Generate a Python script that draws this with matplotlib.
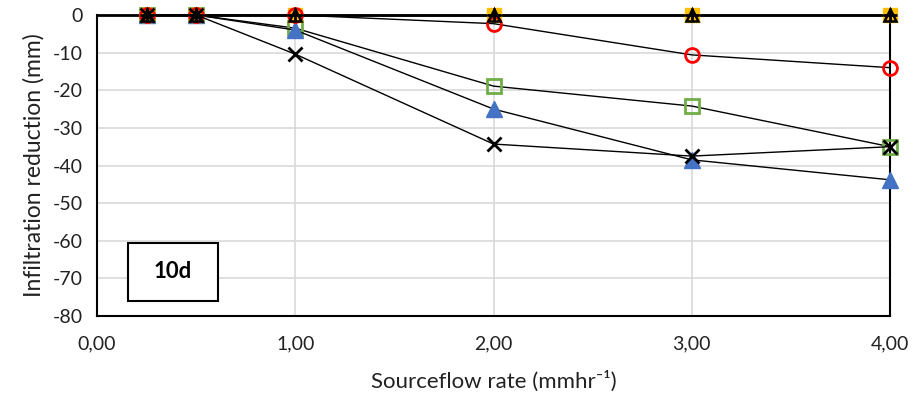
import matplotlib
matplotlib.use("Agg")
import matplotlib.pyplot as plt
from matplotlib.ticker import FuncFormatter
from matplotlib.patches import Rectangle

plt.rcParams['font.family'] = ['Lato', 'DejaVu Sans']

x = [0.25, 0.5, 1.0, 2.0, 3.0, 4.0]
s_green_sq = [0, 0, -3.5, -18.9, -24.2, -35.0]
s_blue_tri = [0, 0, -4.0, -25.0, -38.5, -43.8]
s_yellow_sq = [0, 0, 0, 0, 0, 0]
s_red_circ = [0, 0, 0, -2.3, -10.6, -14.0]
s_black_x = [0, 0, -10.4, -34.3, -37.5, -35.0]
s_black_plus = [0, 0, 0, 0, 0, 0]
s_black_tri = [0, 0, 0, 0, 0, 0]

xticks = [0, 1, 2, 3, 4]
yticks = list(range(-80, 1, 10))

fig = plt.figure(figsize=(9.17, 4.0), dpi=100)
ax = fig.add_axes([0.1058, 0.21, 0.8648, 0.7525])

lw = 1.0
kw = dict(color='black', lw=lw, clip_on=False)
ax.plot(x, s_green_sq, marker='s', ms=10, mfc='none', mec='#70AD47', mew=2, zorder=3, **kw)
ax.plot(x, s_blue_tri, marker='^', ms=11, mfc='#4472C4', mec='#4472C4', zorder=4, **kw)
ax.plot(x, s_yellow_sq, marker='s', ms=10, mfc='#FFC000', mec='#FFC000', zorder=5, **kw)
ax.plot(x, s_red_circ, marker='o', ms=10, mfc='none', mec='#FF0000', mew=2, zorder=6, **kw)
ax.plot(x, s_black_x, marker='x', ms=10, mec='black', mew=2, zorder=7, **kw)
ax.plot(x, s_black_plus, marker='+', ms=10, mec='black', mew=2, zorder=8, **kw)
ax.plot(x, s_black_tri, marker='^', ms=9, mfc='none', mec='black', mew=1.8, zorder=9, **kw)

ax.set_xlim(0, 4)
ax.set_ylim(-80, 0)
ax.set_xticks(xticks)
ax.set_yticks(yticks)
ax.xaxis.set_major_formatter(FuncFormatter(lambda v, p: f"{v:.2f}".replace('.', ',')))
ax.yaxis.set_major_formatter(FuncFormatter(lambda v, p: f"{int(v)}"))
ax.tick_params(axis='both', length=0, labelsize=14, colors='#222222')
ax.tick_params(axis='x', pad=14)
ax.tick_params(axis='y', pad=10)
ax.grid(True, color='#D9D9D9', lw=1.2)
ax.set_axisbelow(True)
for sp in ax.spines.values():
    sp.set_color('black')
    sp.set_linewidth(1.5)
ax.spines['top'].set_linewidth(2)

ax.set_xlabel('Sourceflow rate (mmhr⁻¹)', fontsize=16, color='#222222', labelpad=13)
ax.set_ylabel('Infiltration reduction (mm)', fontsize=16.5, color='#222222', labelpad=6)

ax.add_patch(Rectangle((0.156, -75.9), 0.454, 15.4, fc='white', ec='black', lw=1.5, zorder=10))
ax.text(0.383, -68.2, '10d', fontsize=16, fontweight='bold', ha='center', va='center', zorder=11)

fig.savefig('out.png', dpi=100)
